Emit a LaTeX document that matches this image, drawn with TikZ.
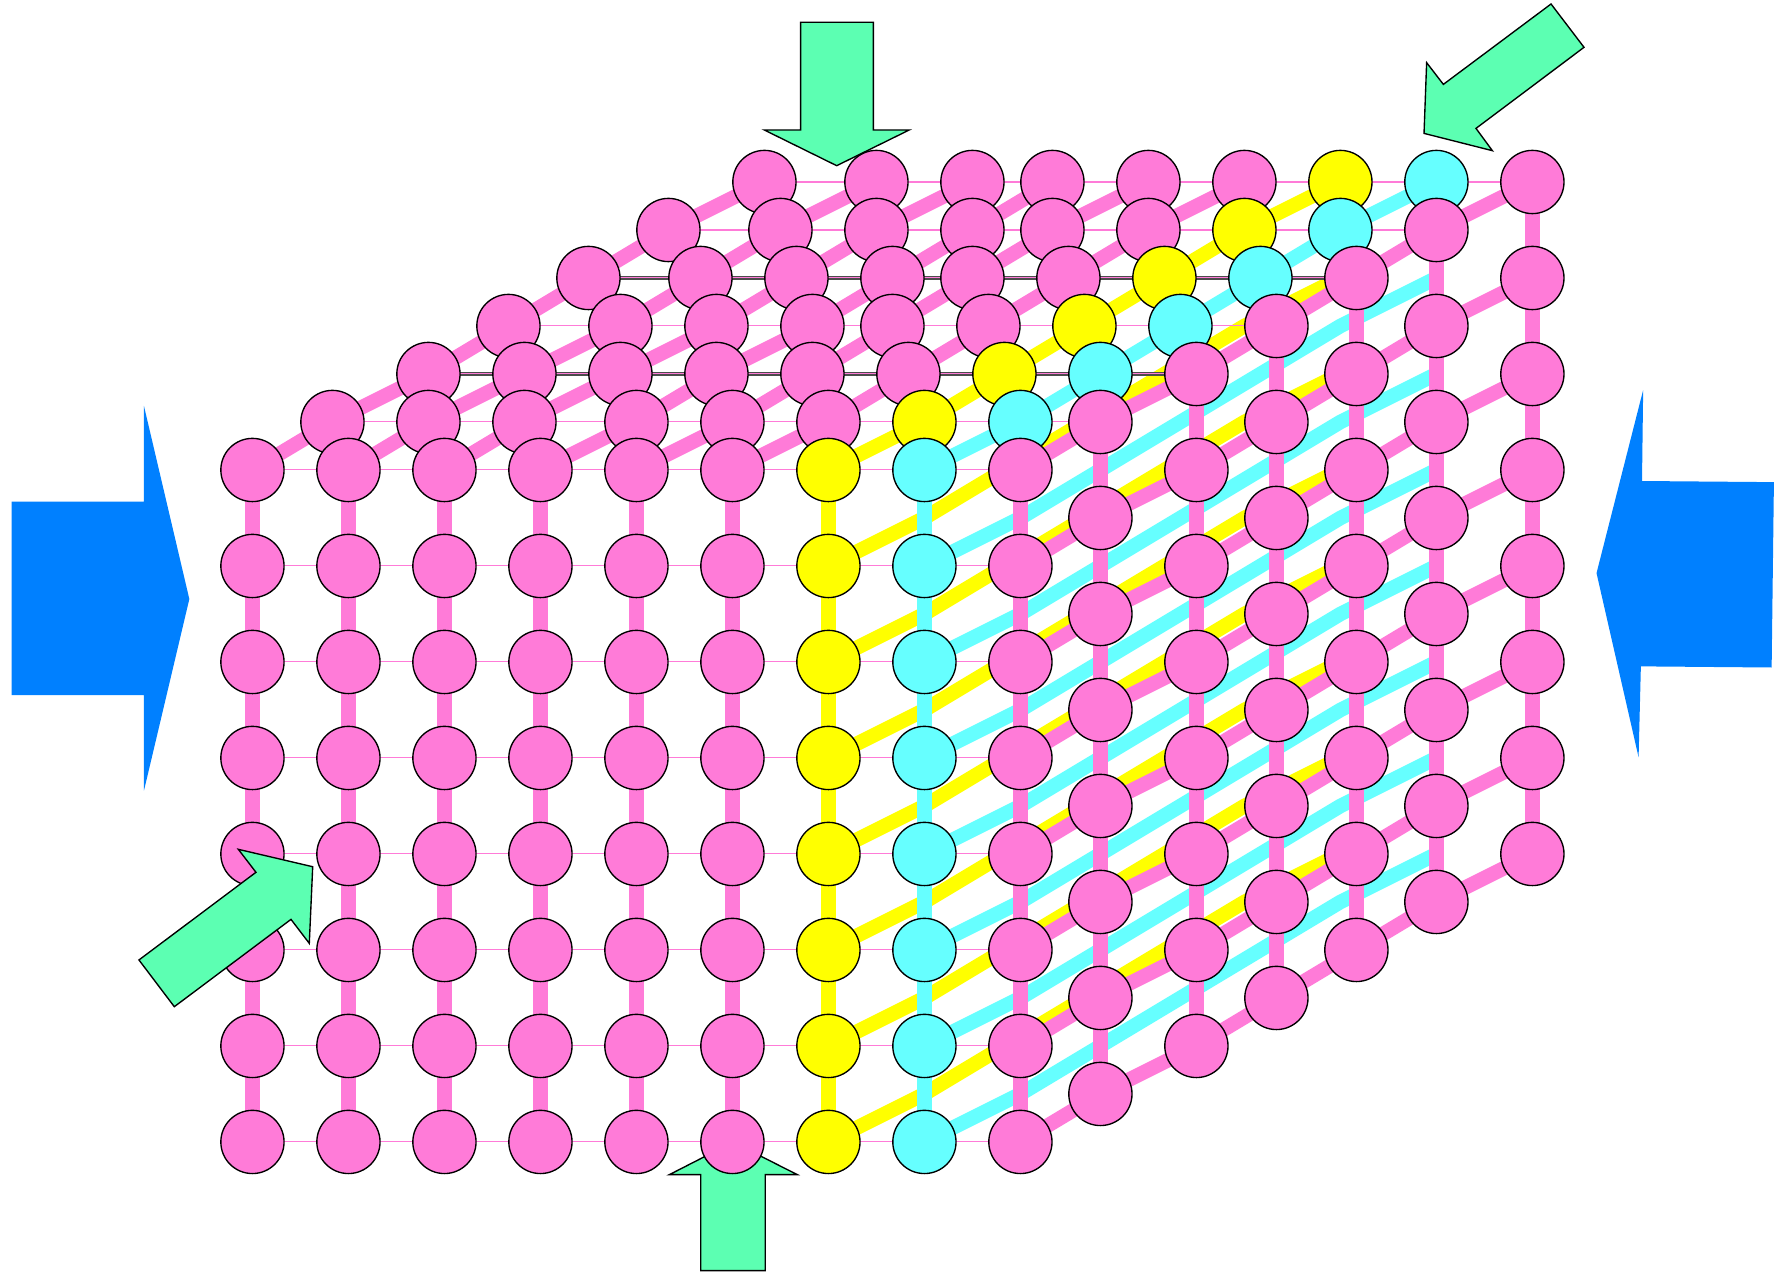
\documentclass[tikz,border=0pt]{standalone}
\definecolor{ballpink}{HTML}{FF7BD8}
\definecolor{ballyellow}{HTML}{FFFF00}
\definecolor{ballcyan}{HTML}{66FFFF}
\definecolor{arrowgreen}{HTML}{5CFFB2}
\definecolor{arrowblue}{HTML}{0080FF}
\begin{document}
\begin{tikzpicture}[x=0.5pt,y=-0.5pt,
  bond/.style={line width=6.4pt,line join=round},
  link/.style={line width=0.45pt,ballpink},
  darklink/.style={line width=1.4pt,black!70},
  ball/.style={circle,draw=black,line width=0.6pt,minimum size=27.8pt,inner sep=0pt},
  greenarrow/.style={fill=arrowgreen,draw=black,line width=0.6pt,line join=miter},
  bluearrow/.style={fill=arrowblue}]
\useasboundingbox (0,0) rectangle (1568,1120);

% lattice points: column offsets (in grid units) for each depth layer k
\foreach \k/\xs in {0/{0,6,12,18,24,30,36,42,48},
                    1/{5,11,17,24,30,36,42,48,53},
                    2/{11,17,23,29,35,41,47,53,59},
                    3/{16,23,29,35,40,46,52,58,64},
                    4/{21,28,34,40,45,51,57,63,69},
                    5/{26,33,39,45,50,56,62,68,74},
                    6/{32,39,45,50,56,62,68,74,80}}{
  \foreach \a [count=\i from 0] in \xs {
    \foreach \j in {0,...,7} {
      \coordinate (p-\i-\j-\k) at ({222+14.07*\a},{413.3+14.07*(6*\j-3*\k)});
    }
  }
}

% depth bonds of the inner yellow and cyan planes
\foreach \i/\c in {6/ballyellow,7/ballcyan}{
  \foreach \j in {1,...,7}{
    \draw[bond,\c] (p-\i-\j-0) -- (p-\i-\j-1) -- (p-\i-\j-2) -- (p-\i-\j-3)
      -- (p-\i-\j-4) -- (p-\i-\j-5) -- (p-\i-\j-6);
  }
}
% depth bonds on the right face
\foreach \j in {1,...,7}{
  \draw[bond,ballpink] (p-8-\j-0) -- (p-8-\j-1) -- (p-8-\j-2) -- (p-8-\j-3)
    -- (p-8-\j-4) -- (p-8-\j-5) -- (p-8-\j-6);
}
% depth bonds on the top face
\foreach \i/\c in {0/ballpink,1/ballpink,2/ballpink,3/ballpink,4/ballpink,
                   5/ballpink,6/ballyellow,7/ballcyan,8/ballpink}{
  \draw[bond,\c] (p-\i-0-0) -- (p-\i-0-1) -- (p-\i-0-2) -- (p-\i-0-3)
    -- (p-\i-0-4) -- (p-\i-0-5) -- (p-\i-0-6);
  % vertical bonds on the front face
  \draw[bond,\c] (p-\i-0-0) -- (p-\i-7-0);
}
% vertical bonds on the right face
\foreach \k in {1,...,6}{
  \draw[bond,ballpink] (p-8-0-\k) -- (p-8-7-\k);
}

% thin horizontal links
\foreach \j in {0,...,7}{
  \draw[link] (p-0-\j-0) -- (p-8-\j-0);
}
\foreach \k in {2,4}{
  \draw[darklink] (p-0-0-\k) -- (p-8-0-\k);
}
\foreach \k in {1,...,6}{
  \draw[link] (p-0-0-\k) -- (p-8-0-\k);
}

% arrow from below, partly hidden by the balls
\draw[greenarrow] (673,1117.4) -- (616.2,1117.4) -- (616.2,1033) -- (588.6,1033)
  -- (644.6,1004.4) -- (701.2,1033) -- (673,1033) -- cycle;

% balls, back layers first
\foreach \k in {6,5,...,1}{
  \foreach \i/\c in {0/ballpink,1/ballpink,2/ballpink,3/ballpink,4/ballpink,
                     5/ballpink,6/ballyellow,7/ballcyan,8/ballpink}{
    \node[ball,fill=\c] (n-\i-0-\k) at (p-\i-0-\k) {};
  }
  \foreach \j in {1,...,7}{
    \node[ball,fill=ballpink] (n-8-\j-\k) at (p-8-\j-\k) {};
  }
}
\foreach \i/\c in {0/ballpink,1/ballpink,2/ballpink,3/ballpink,4/ballpink,
                   5/ballpink,6/ballyellow,7/ballcyan,8/ballpink}{
  \foreach \j in {0,...,7}{
    \node[ball,fill=\c] (n-\i-\j-0) at (p-\i-\j-0) {};
  }
}

% remaining arrows
\draw[greenarrow] (704.1,19.6) -- (768,19.6) -- (768,114.3) -- (799.6,114.3)
  -- (735.8,145.7) -- (672.1,114.3) -- (704.1,114.3) -- cycle;
\draw[greenarrow] (1364,3.5) -- (1393,41.6) -- (1298,112.9) -- (1312.4,132.5)
  -- (1252.3,117.3) -- (1254.6,55.1) -- (1269.3,74.2) -- cycle;
\draw[greenarrow] (209.6,746.9) -- (275,762.2) -- (272,829.6) -- (255.9,808.5)
  -- (153.3,885.3) -- (122.2,844.2) -- (225.1,767.1) -- cycle;
\fill[bluearrow] (10.3,441.2) -- (126.6,441.2) -- (126.6,357) -- (166.5,526.8)
  -- (126.6,695.3) -- (126.6,611.2) -- (10.3,611.2) -- cycle;
\fill[bluearrow] (1560,424) -- (1444,423) -- (1445,343) -- (1404,504)
  -- (1441,666) -- (1443,586) -- (1558,587) -- cycle;
\end{tikzpicture}
\end{document}
